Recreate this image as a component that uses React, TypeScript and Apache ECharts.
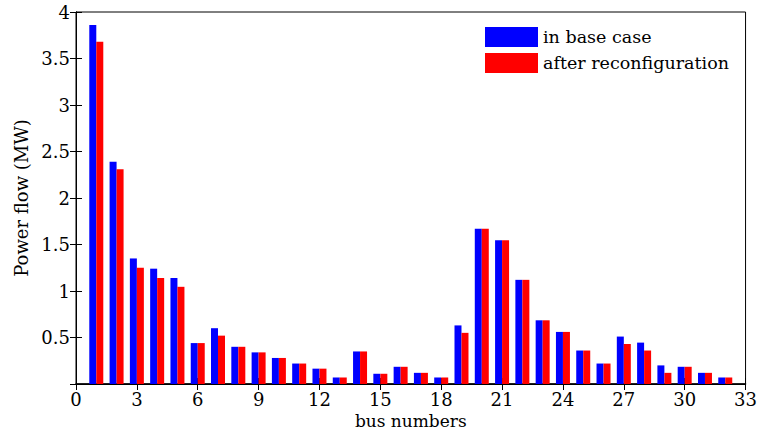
import React, { useEffect, useRef } from "react";
import * as echarts from "echarts";

const busNumbers = [1, 2, 3, 4, 5, 6, 7, 8, 9, 10, 11, 12, 13, 14, 15, 16, 17, 18, 19, 20, 21, 22, 23, 24, 25, 26, 27, 28, 29, 30, 31, 32];
const baseCase = [3.86, 2.39, 1.35, 1.24, 1.14, 0.44, 0.60, 0.40, 0.34, 0.28, 0.22, 0.165, 0.07, 0.35, 0.11, 0.185, 0.12, 0.07, 0.63, 1.67, 1.545, 1.12, 0.685, 0.56, 0.36, 0.22, 0.51, 0.445, 0.20, 0.185, 0.12, 0.07];
const afterReconfig = [3.68, 2.31, 1.25, 1.14, 1.045, 0.44, 0.52, 0.40, 0.34, 0.28, 0.22, 0.165, 0.07, 0.35, 0.11, 0.185, 0.12, 0.07, 0.55, 1.67, 1.545, 1.12, 0.685, 0.56, 0.36, 0.22, 0.43, 0.36, 0.12, 0.185, 0.12, 0.07];
const seriesNames = ["in base case", "after reconfiguration"];

const FONT = "DejaVu Serif";

export default function App() {
  const ref = useRef<HTMLDivElement>(null);
  useEffect(() => {
    if (!ref.current) return;
    const chart = echarts.init(ref.current, undefined, { renderer: "svg" });
    const axisLine = { show: true, lineStyle: { color: "#000", width: 1 } };
    const tick = { show: true, inside: true, length: 6, lineStyle: { color: "#000" } };
    chart.setOption({
      animation: false,
      backgroundColor: "#fff",
      textStyle: { fontFamily: FONT },
      grid: { left: 76, right: 8, top: 12, bottom: 57, show: true, borderColor: "#000", borderWidth: 1 },
      legend: {
        orient: "vertical",
        left: 485,
        top: 27,
        padding: 0,
        icon: "rect",
        itemWidth: 53,
        itemHeight: 20,
        itemGap: 6,
        data: seriesNames,
        textStyle: { fontFamily: FONT, fontSize: 17.5, color: "#000" },
      },
      xAxis: [
        {
          type: "value",
          min: 0,
          max: 33,
          interval: 3,
          name: "bus numbers",
          nameLocation: "middle",
          nameGap: 22,
          nameTextStyle: { fontFamily: FONT, fontSize: 17, color: "#000" },
          axisLine: { show: true, lineStyle: { color: "#000", width: 1.5 } },
          axisTick: tick,
          axisLabel: { fontFamily: FONT, fontSize: 18, color: "#000", margin: 6 },
          splitLine: { show: false },
        },
        {
          type: "value",
          position: "top",
          min: 0,
          max: 33,
          interval: 3,
          axisLine,
          axisTick: tick,
          axisLabel: { show: false },
          splitLine: { show: false },
        },
      ],
      yAxis: [
        {
          type: "value",
          min: 0,
          max: 4,
          interval: 0.5,
          name: "Power flow (MW)",
          nameLocation: "middle",
          nameGap: 42,
          nameTextStyle: { fontFamily: FONT, fontSize: 18, color: "#000" },
          axisLine,
          axisTick: tick,
          axisLabel: {
            fontFamily: FONT,
            fontSize: 18,
            color: "#000",
            margin: 6,
            formatter: (v: number) => (v === 0 ? "" : String(v)),
          },
          splitLine: { show: false },
        },
        {
          type: "value",
          position: "right",
          min: 0,
          max: 4,
          interval: 0.5,
          axisLine,
          axisTick: tick,
          axisLabel: { show: false },
          splitLine: { show: false },
        },
      ],
      series: [
        {
          name: seriesNames[0],
          type: "bar",
          barWidth: 7,
          barGap: "0%",
          itemStyle: { color: "#0000ff" },
          data: busNumbers.map((b, i) => [b, baseCase[i]]),
        },
        {
          name: seriesNames[1],
          type: "bar",
          barWidth: 7,
          barGap: "0%",
          itemStyle: { color: "#ff0000" },
          data: busNumbers.map((b, i) => [b, afterReconfig[i]]),
        },
      ],
    });
    return () => chart.dispose();
  }, []);
  return <div ref={ref} style={{ position: "fixed", left: 0, top: 0, width: 760, height: 441 }} />;
}
